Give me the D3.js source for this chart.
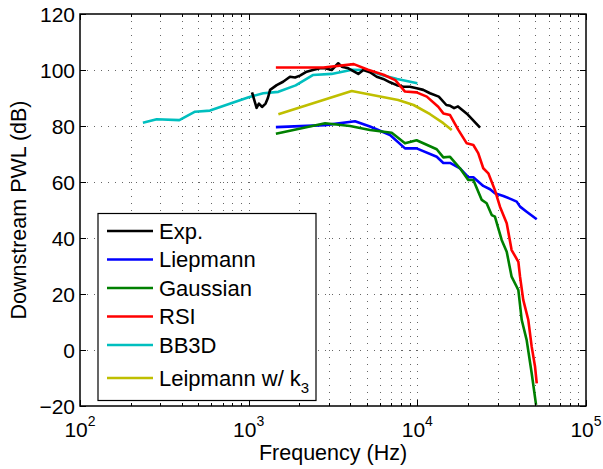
<!DOCTYPE html>
<html><head><meta charset="utf-8">
<script src="https://cdn.jsdelivr.net/npm/d3@7"></script>
<style>body{margin:0;background:#fff}svg{display:block}text{font-family:"Liberation Sans",Arial,sans-serif;fill:#000}</style>
</head><body><svg id="c" width="603" height="469"></svg>
<script>
const xTicks = [100, 1000, 10000, 100000];
const xTickExps = ["2", "3", "4", "5"];
const yTicks = [-20, 0, 20, 40, 60, 80, 100, 120];
const seriesNames = ["Exp.", "Liepmann", "Gaussian", "RSI", "BB3D", "Leipmann w/ k"];
const seriesColors = ["#000000", "#0000ff", "#008000", "#ff0000", "#00bfbf", "#bfbf00"];

const expF = [1047,1114,1150,1200,1260,1300,1340,1466,1600,1758,1884,2014,2208,2404,2649,2838,3105,3396,3565,3899,4467,4786,5236,5741,6281,6887,7551,8260,9036,9908,10840,11890,13400,14860,15670,16520,17420,19910,23550];
const expV = [92.0,86.5,88.0,86.8,88.0,90.0,92.9,94.6,95.8,97.6,97.3,98.0,99.4,100.0,100.6,100.6,100.0,102.4,101.2,100.6,98.6,100.0,99.2,97.6,96.8,95.6,94.6,94.0,94.0,93.5,92.9,91.7,90.5,87.5,87.2,86.4,87.0,84.1,79.4];

const liepF = [1450,2840,4270,5240,6890,8450,9900,13030,14260,15630,17900,20040,21480,24600,26980,28840,32360,36220,38820,40640,44460,51050];
const liepV = [79.6,80.3,81.7,79.8,76.8,72.0,72.0,69.0,66.8,66.8,64.9,61.7,61.7,58.6,57.4,56.0,55.0,53.8,53.0,51.2,49.4,46.7];

const gaussF = [1450,2840,3990,5240,7050,8450,9900,13030,14260,15630,17900,20040,21480,24100,25760,27610,28840,31620,33880,36220,38820,39720,41590,44460,47640,50580];
const gaussV = [77.2,81.0,80.0,78.6,77.6,73.8,74.9,71.7,68.8,69.0,64.9,60.7,60.7,53.6,52.4,48.2,47.6,39.3,35.1,26.2,22.6,21.4,10.7,3.6,-8.3,-19.6];

const rsiF = [1450,2775,4200,5100,6300,7400,8450,9900,11380,13300,14260,15630,17500,19630,21480,22960,24600,26360,28840,30900,33880,36220,39720,40640,42460,45500,47640,49890,51050];
const rsiV = [100.9,100.9,102.1,100.1,98.3,96.4,92.3,92.0,90.5,86.9,84.5,83.9,78.6,73.8,73.2,70.3,64.9,63.1,57.1,51.2,45.3,35.7,31.5,26.2,17.9,10.7,1.2,-6.0,-11.9];

const bb3dF = [236,285,388,481,590,1000,1220,1500,1900,2400,3100,4100,5000,6300,7600,10000];
const bb3dV = [81.2,82.4,82.1,85.1,85.5,90.3,91.7,92.2,94.5,98.2,98.6,100.1,100.0,98.0,96.8,95.3];

const k3F = [1500,4083,7700,9500,11900,14260,16000];
const k3V = [84.2,92.5,89.3,87.5,84.2,81.0,78.6];

const seriesF = [expF, liepF, gaussF, rsiF, bb3dF, k3F];
const seriesV = [expV, liepV, gaussV, rsiV, bb3dV, k3V];

const L = 80, R = 586, T = 14, B = 406;
const svg = d3.select("#c");
const x = d3.scaleLog().domain([1e2, 1e5]).range([L, R]);
const y = d3.scaleLinear().domain([-20, 120]).range([B, T]);

const allX = x.ticks();
const grid = svg.append("g").attr("stroke", "#666").attr("stroke-width", 1).attr("stroke-dasharray", "1,6");
allX.filter(v => v > 100 && v < 100000).forEach(v => {
  grid.append("line").attr("x1", Math.round(x(v)) + 0.5).attr("x2", Math.round(x(v)) + 0.5).attr("y1", T).attr("y2", B);
});
yTicks.filter(v => v > -20 && v < 120).forEach(v => {
  grid.append("line").attr("x1", L).attr("x2", R).attr("y1", Math.round(y(v)) + 0.5).attr("y2", Math.round(y(v)) + 0.5);
});

// series
const line = d3.line().x(d => x(d[0])).y(d => y(d[1]));
const order = [4, 0, 5, 1, 2, 3];
order.forEach(i => {
  const pts = seriesF[i].map((f, j) => [f, seriesV[i][j]]);
  svg.append("path").attr("d", line(pts)).attr("fill", "none")
    .attr("stroke", seriesColors[i]).attr("stroke-width", 2.6).attr("stroke-linejoin", "round");
});

// frame and ticks
const ax = svg.append("g").attr("stroke", "#000").attr("stroke-width", 1);
allX.forEach(v => {
  const major = xTicks.includes(v);
  const len = major ? 6 : 3;
  const px = Math.round(x(v)) + 0.5;
  ax.append("line").attr("x1", px).attr("x2", px).attr("y1", B).attr("y2", B - len);
  ax.append("line").attr("x1", px).attr("x2", px).attr("y1", T).attr("y2", T + len);
});
yTicks.forEach(v => {
  const py = Math.round(y(v)) + 0.5;
  ax.append("line").attr("x1", L).attr("x2", L + 6).attr("y1", py).attr("y2", py);
  ax.append("line").attr("x1", R).attr("x2", R - 6).attr("y1", py).attr("y2", py);
});
svg.append("rect").attr("x", L).attr("y", T).attr("width", R - L).attr("height", B - T)
  .attr("fill", "none").attr("stroke", "#000").attr("stroke-width", 1.5);

// tick labels
yTicks.forEach(v => {
  svg.append("text").attr("x", L - 5).attr("y", y(v)).attr("dy", "0.36em")
    .attr("text-anchor", "end").attr("font-size", 21).text(v < 0 ? "\u2212" + Math.abs(v) : v);
});
xTicks.forEach((v, i) => {
  const t = svg.append("text").attr("x", x(v)).attr("y", 437).attr("text-anchor", "middle").attr("font-size", 21);
  t.append("tspan").text("10");
  t.append("tspan").attr("font-size", 14).attr("dy", -11).text(xTickExps[i]);
});
svg.append("text").attr("x", (L + R) / 2).attr("y", 460).attr("text-anchor", "middle")
  .attr("font-size", 21.5).text("Frequency (Hz)");
svg.append("text").attr("transform", `translate(26,${(T + B) / 2}) rotate(-90)`)
  .attr("text-anchor", "middle").attr("font-size", 21.5).text("Downstream PWL (dB)");

// legend
const lg = svg.append("g");
lg.append("rect").attr("x", 98).attr("y", 213.5).attr("width", 218).attr("height", 187)
  .attr("fill", "#fff").attr("stroke", "#000").attr("stroke-width", 1.2);
const rowY = [231, 259.5, 288, 316.5, 345, 378];
seriesNames.forEach((n, i) => {
  lg.append("line").attr("x1", 107).attr("x2", 153).attr("y1", rowY[i]).attr("y2", rowY[i])
    .attr("stroke", seriesColors[i]).attr("stroke-width", 2.6);
  const t = lg.append("text").attr("x", 159).attr("y", rowY[i]).attr("dy", "0.36em").attr("font-size", 22);
  t.append("tspan").text(n);
  if (i === 5) t.append("tspan").attr("font-size", 15).attr("dy", 7).text("3");
});
</script></body></html>
